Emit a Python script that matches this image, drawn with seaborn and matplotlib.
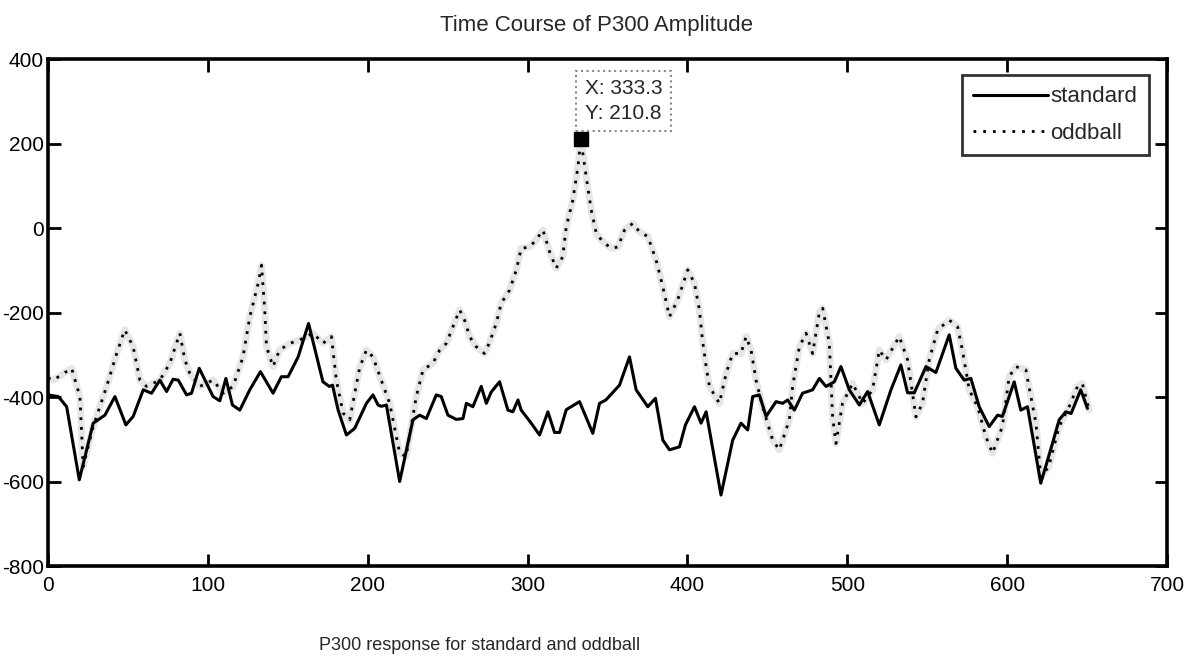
import matplotlib
matplotlib.use('Agg')
import matplotlib.pyplot as plt
import seaborn as sns

# values (time in ms, amplitude)
standard_x = [0, 6.5, 11.7, 19.6, 28.3, 35.6, 41.9, 48.75, 53.3, 59.6, 64.8, 70, 74.2, 78.3, 81.5,
              86.7, 89.8, 94.6, 103.3, 107.5, 111.3, 115.4, 120, 126.25, 132.9, 140.8, 146, 150.2,
              156.5, 163, 172, 176, 178, 181.5, 186.7, 191.9, 199.2, 203.3, 206.5, 208.5, 211.7,
              220, 228.3, 232.5, 236.7, 242.9, 246, 250.2, 255.4, 259.6, 261.7, 265.8, 271, 274.2,
              277.3, 282.5, 287.7, 290.8, 294, 296, 302.3, 307.5, 312.7, 316.9, 320, 324.2, 332.5,
              340.8, 345, 349, 357.5, 363.75, 367.9, 375.2, 380, 384.6, 388.75, 395, 398.75, 404.4,
              408.5, 411.7, 421, 428.3, 433.5, 437.7, 440.8, 445, 449.2, 455.4, 459.6, 462.7, 466.9,
              472, 478.3, 482.5, 486.7, 491.9, 496, 501.25, 507.5, 512.7, 520, 527.3, 533.5, 537.7,
              541.9, 549.2, 555.4, 563.75, 567.9, 573.1, 577.3, 582.5, 588.75, 594, 597, 604.4,
              608.5, 612.7, 621, 628.3, 632.5, 636.7, 640, 646, 650.2]
standard_y = [-395, -399, -423, -596, -462, -443, -399, -466, -446, -383, -391, -360, -387, -358, -360,
              -395, -391, -332, -399, -409, -356, -419, -431, -383, -340, -391, -352, -352,
              -305, -226, -364, -375, -372, -431, -490, -474, -415, -395, -419, -422, -419,
              -600, -454, -443, -451, -395, -399, -443, -453, -451, -415, -423, -375, -415,
              -388, -364, -431, -435, -407, -431, -462, -490, -435, -484, -484, -430, -411,
              -486, -415, -407, -372, -305, -383, -423, -403, -502, -525, -518, -466, -423,
              -462, -435, -632, -502, -462, -478, -399, -395, -446, -411, -415, -407, -431,
              -391, -383, -356, -375, -364, -328, -383, -419, -387, -466, -383, -324, -390,
              -390, -328, -342, -253, -332, -360, -356, -423, -470, -443, -446, -364,
              -431, -423, -604, -510, -454, -435, -439, -383, -427]

oddball_x = [0, 3.3, 14.8, 20, 22, 28.3, 36.7, 43, 48, 53.3, 57.5, 61.7, 70, 76.25, 82.5, 85.6,
             88.75, 95, 103.3, 109.6, 115.8, 122, 126.25, 131.5, 133.6, 135.6, 136.7, 140.8, 144.8,
             151.25, 157.5, 165.8, 172, 177.3, 180.4, 184.6, 188.75, 195, 199.2, 203.3, 207.5,
             213.75, 220, 224, 230.4, 234.6, 240.8, 245, 249.2, 253.3, 257.5, 260.6, 263.75, 267.9,
             273, 276, 280.4, 283.5, 288.75, 293, 296, 301.25, 305.4, 309.6, 313.75, 317.9, 322,
             324.2, 328.3, 331.5, 333.3, 336.7, 339.8, 343, 347, 352.3, 356.5, 360.6, 365.8, 370,
             375.2, 380.4, 384.6, 388.75, 393.9, 400.2, 404.4, 407.5, 409.4, 411.7, 413.75, 420,
             424.2, 428.3, 433.5, 436.7, 439.8, 442.9, 447, 453.3, 457.5, 463.75, 465.8, 470,
             474.2, 478.3, 482.5, 484.6, 488.75, 490.8, 492.9, 497, 503.3, 509.6, 515.8, 520,
             524.2, 532.5, 537.7, 542.9, 547, 551.25, 556.5, 563.75, 569, 572, 576.25, 581.5,
             586.7, 590.8, 597, 601.25, 605.4, 611.7, 614.8, 618, 621, 626, 632.5, 638.75, 644,
             647, 651.25]
oddball_y = [-355, -360, -332, -399, -565, -470, -375, -297, -241, -281, -360, -375, -360, -320, -249, -312,
             -344, -375, -360, -391, -375, -305, -210, -131, -88, -194, -281, -328, -289,
             -273, -265, -249, -273, -257, -360, -438, -454, -330, -289, -305, -350,
             -415, -533, -541, -399, -336, -320, -289, -273, -234, -194, -218, -257, -281,
             -297, -273, -226, -178, -147, -99, -48, -45, -28, -5, -56, -95, -68,
             3, 66, 145, 210.8, 121, 43, -13, -32, -48, -45, -5, 11, -9,
             -20, -76, -139, -210, -170, -99, -131, -194, -265, -328, -375, -415,
             -344, -297, -297, -257, -289, -360, -423, -502, -525, -454, -375, -281,
             -249, -297, -200, -190, -273, -447, -510, -415, -368, -415, -383, -289,
             -312, -257, -312, -447, -415, -312, -241, -218, -234, -289, -383, -423,
             -494, -533, -470, -352, -328, -336, -399, -462, -589, -565, -470, -423, -375,
             -368, -431]

tip_x = 333.3
tip_y = 210.8

sns.set_style('ticks')
plt.rcParams['font.family'] = ['Liberation Sans', 'DejaVu Sans']
plt.rcParams['axes.unicode_minus'] = False

fig = plt.figure(figsize=(11.87, 6.63), dpi=100)
ax = fig.add_axes([0.0404, 0.1463, 0.9428, 0.7647])

# faint grey halftone left by the scan around the curves
sns.lineplot(x=oddball_x, y=oddball_y, ax=ax, color='#e6e6e6', linewidth=5,
             estimator=None, sort=False, legend=False)
sns.lineplot(x=standard_x, y=standard_y, ax=ax, color='black', linewidth=2.2,
             estimator=None, sort=False, label='standard')
sns.lineplot(x=oddball_x, y=oddball_y, ax=ax, color='black', linewidth=2.0,
             linestyle=(0, (1, 2.5)), estimator=None, sort=False, label='oddball')

ax.set_xlim(0, 700)
ax.set_ylim(-800, 400)
ax.set_xticks(range(0, 701, 100))
ax.set_yticks(range(-800, 401, 200))
ax.tick_params(direction='in', length=9, width=2, labelsize=15, top=True, right=True,
               colors='black')
ax.tick_params(axis='y', pad=3)
ax.tick_params(axis='x', pad=7)
for s in ax.spines.values():
    s.set_linewidth(2.6)
    s.set_color('black')

ax.set_title('Time Course of P300 Amplitude', fontsize=16, pad=20, x=0.49)
fig.text(0.404, 0.026, 'P300 response for standard and oddball', fontsize=13,
         ha='center', va='center')

# data cursor
ax.plot([tip_x], [tip_y], marker='s', color='black', markersize=10, linestyle='none',
        clip_on=False)
ax.annotate(f'X: {tip_x}\nY: {tip_y}', xy=(tip_x, tip_y), xytext=(4, 16),
            textcoords='offset pixels', ha='left', va='bottom', fontsize=15,
            annotation_clip=False, linespacing=1.4,
            bbox=dict(boxstyle='square,pad=0.4', facecolor='white', edgecolor='#888888',
                      linestyle=':', linewidth=1.5))

leg = ax.legend(loc='upper right', bbox_to_anchor=(0.9835, 0.968), borderaxespad=0,
                fontsize=16, frameon=True, fancybox=False, handlelength=3.4,
                handletextpad=0.1, borderpad=0.5, labelspacing=0.7)
leg.get_frame().set_edgecolor('black')
leg.get_frame().set_linewidth(2)
leg.legend_handles[1].set_linestyle((0, (1, 2.5)))

fig.savefig('out.png', dpi=100)
